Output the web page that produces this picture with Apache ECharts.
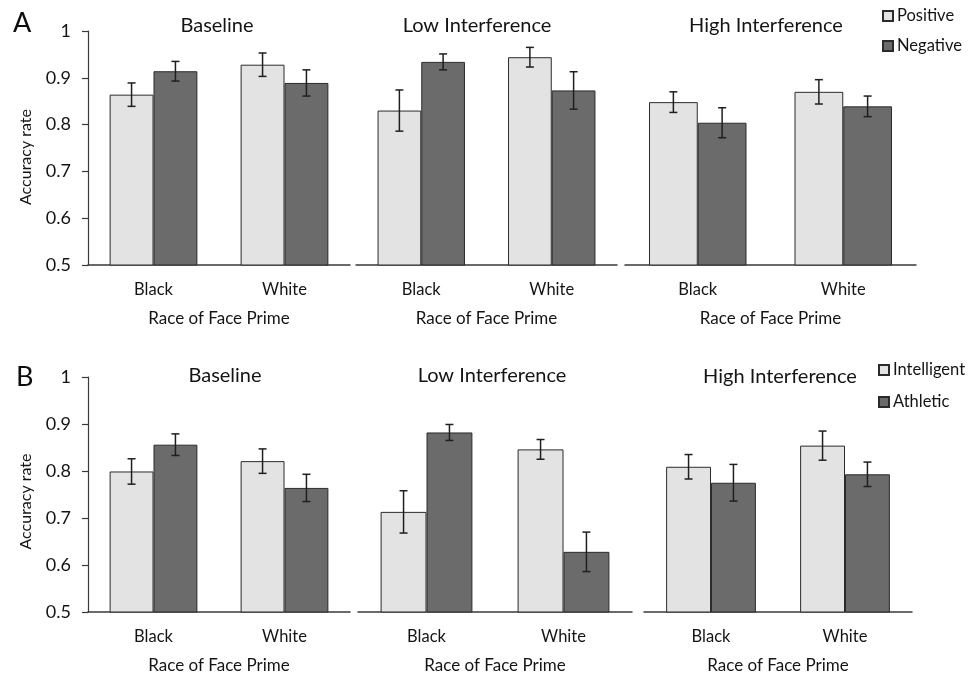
<!DOCTYPE html>
<html>
<head>
<meta charset="utf-8">
<title>Accuracy rate by race of face prime</title>
<script src="https://cdn.jsdelivr.net/npm/echarts@6/dist/echarts.min.js"></script>
<style>
  html, body { margin: 0; padding: 0; background: #ffffff; }
  #chart { width: 970px; height: 675px; }
</style>
</head>
<body>
<div id="chart"></div>
<script>
// Conditions (one sub-chart each) and the categories inside every sub-chart
const conditions = ['Baseline', 'Low Interference', 'High Interference'];
const races = ['Black', 'White'];
const yTicks = ['0.5', '0.6', '0.7', '0.8', '0.9', '1'];

// Panel A: valence of the target word (mean accuracy and error, [Black, White] per condition)
const positiveMean = [[0.864, 0.928], [0.830, 0.944], [0.848, 0.870]];
const positiveErr  = [[0.025, 0.025], [0.044, 0.021], [0.022, 0.026]];
const negativeMean = [[0.914, 0.889], [0.934, 0.873], [0.804, 0.839]];
const negativeErr  = [[0.021, 0.028], [0.017, 0.040], [0.032, 0.022]];

// Panel B: stereotype content of the target word
const intelligentMean = [[0.799, 0.821], [0.713, 0.846], [0.809, 0.854]];
const intelligentErr  = [[0.027, 0.026], [0.045, 0.021], [0.026, 0.031]];
const athleticMean    = [[0.856, 0.764], [0.882, 0.628], [0.775, 0.793]];
const athleticErr     = [[0.023, 0.029], [0.017, 0.042], [0.039, 0.026]];

const FONT = 'Lato';
const INK = '#141414';
const LIGHT = '#e3e3e3';
const DARK = '#6b6b6b';
const EDGE = '#2b2b2b';
const CAT_GAP = 0.33;

// Layout of the six plotting areas (pixels)
const layout = [
  { left: 88,  top: 31,  width: 262, height: 234 },
  { left: 356, top: 31,  width: 261, height: 234 },
  { left: 625, top: 31,  width: 291, height: 234 },
  { left: 88,  top: 377, width: 262, height: 236 },
  { left: 358, top: 377, width: 274, height: 236 },
  { left: 644, top: 377, width: 268, height: 236 }
];
const titleX = [212, 472, 761, 220, 487, 775];
const titleY = [11, 11, 11, 361, 361, 362];
// y-axis titles sit a little below the middle of each row
const yNamePad = [[0, 18, 0, 0], [0, 14, 0, 0]];

const panels = [
  { names: ['Positive', 'Negative'], means: [positiveMean, negativeMean], errs: [positiveErr, negativeErr] },
  { names: ['Intelligent', 'Athletic'], means: [intelligentMean, athleticMean], errs: [intelligentErr, athleticErr] }
];

const grids = [], xAxes = [], yAxes = [], series = [], titles = [];

panels.forEach(function (panel, p) {
  conditions.forEach(function (cond, c) {
    const g = p * 3 + c;
    grids.push(Object.assign({ containLabel: false }, layout[g]));
    xAxes.push({
      type: 'category',
      gridIndex: g,
      data: races,
      axisLine: { show: true, lineStyle: { color: '#3a3a3a', width: 1.5 } },
      axisTick: { show: false },
      axisLabel: { color: INK, fontFamily: FONT, fontSize: 16.5, margin: 16 },
      name: 'Race of Face Prime',
      nameLocation: 'middle',
      nameGap: 45,
      nameTextStyle: { color: INK, fontFamily: FONT, fontSize: 17 }
    });
    const first = c === 0;
    yAxes.push({
      type: 'value',
      gridIndex: g,
      min: 0.5,
      max: 1,
      interval: 0.1,
      splitLine: { show: false },
      axisLine: { show: first, lineStyle: { color: '#3a3a3a', width: 1.2 } },
      axisTick: { show: first, length: 6, lineStyle: { color: '#3a3a3a', width: 1.2 } },
      axisLabel: {
        show: first,
        color: INK,
        fontFamily: FONT,
        fontSize: 18,
        margin: 17,
        formatter: function (v) { return yTicks[Math.round((v - 0.5) * 10)]; }
      },
      name: first ? 'Accuracy rate' : '',
      nameLocation: 'middle',
      nameGap: 54,
      nameTextStyle: { color: INK, fontFamily: FONT, fontSize: 16, padding: yNamePad[p] }
    });
    titles.push({
      text: cond,
      left: titleX[g],
      top: titleY[g],
      textAlign: 'center',
      textStyle: { fontFamily: FONT, fontSize: 20, fontWeight: 'normal', color: INK }
    });

    // Bars for the two word types
    panel.names.forEach(function (name, s) {
      series.push({
        name: name,
        type: 'bar',
        xAxisIndex: g,
        yAxisIndex: g,
        data: panel.means[s][c],
        barGap: '0%',
        barCategoryGap: (CAT_GAP * 100) + '%',
        itemStyle: { color: s === 0 ? LIGHT : DARK, borderColor: EDGE, borderWidth: 1 },
        silent: true,
        z: 2
      });
    });

    // Error bars drawn on top of each bar
    const errData = [];
    panel.names.forEach(function (name, s) {
      races.forEach(function (r, i) {
        errData.push([i, panel.means[s][c][i], panel.errs[s][c][i], s === 0 ? -1 : 1]);
      });
    });
    series.push({
      type: 'custom',
      xAxisIndex: g,
      yAxisIndex: g,
      data: errData,
      silent: true,
      z: 5,
      renderItem: function (params, api) {
        const idx = api.value(0), mean = api.value(1), err = api.value(2), side = api.value(3);
        const band = api.size([1, 0])[0];
        const off = side * band * (1 - CAT_GAP) / 4;
        const hi = api.coord([idx, mean + err]);
        const lo = api.coord([idx, mean - err]);
        const x = hi[0] + off;
        const cap = 4;
        const style = { stroke: '#1f1f1f', lineWidth: 1.5 };
        return {
          type: 'group',
          children: [
            { type: 'line', shape: { x1: x, y1: hi[1], x2: x, y2: lo[1] }, style: style },
            { type: 'line', shape: { x1: x - cap, y1: hi[1], x2: x + cap, y2: hi[1] }, style: style },
            { type: 'line', shape: { x1: x - cap, y1: lo[1], x2: x + cap, y2: lo[1] }, style: style }
          ]
        };
      }
    });
  });
});

// Panel letters
titles.push({ text: 'A', left: 8, top: 5, textStyle: { fontFamily: FONT, fontSize: 27, fontWeight: 'normal', color: '#0d0d0d' } });
titles.push({ text: 'B', left: 11, top: 359, textStyle: { fontFamily: FONT, fontSize: 27, fontWeight: 'normal', color: '#0d0d0d' } });

const legendBase = {
  orient: 'vertical',
  icon: 'rect',
  itemWidth: 10,
  itemHeight: 10,
  padding: 0,
  selectedMode: false,
  textStyle: { fontFamily: FONT, fontSize: 16.5, lineHeight: 18, color: INK, padding: [0, 0, 0, -1] }
};

const option = {
  backgroundColor: '#ffffff',
  animation: false,
  title: titles,
  grid: grids,
  xAxis: xAxes,
  yAxis: yAxes,
  legend: [
    Object.assign({}, legendBase, { data: panels[0].names, left: 882, top: 7, itemGap: 12 }),
    Object.assign({}, legendBase, { data: panels[1].names, left: 878, top: 361, itemGap: 14 })
  ],
  series: series
};

const chart = echarts.init(document.getElementById('chart'), null, { renderer: 'canvas' });
chart.setOption(option);
</script>
</body>
</html>
